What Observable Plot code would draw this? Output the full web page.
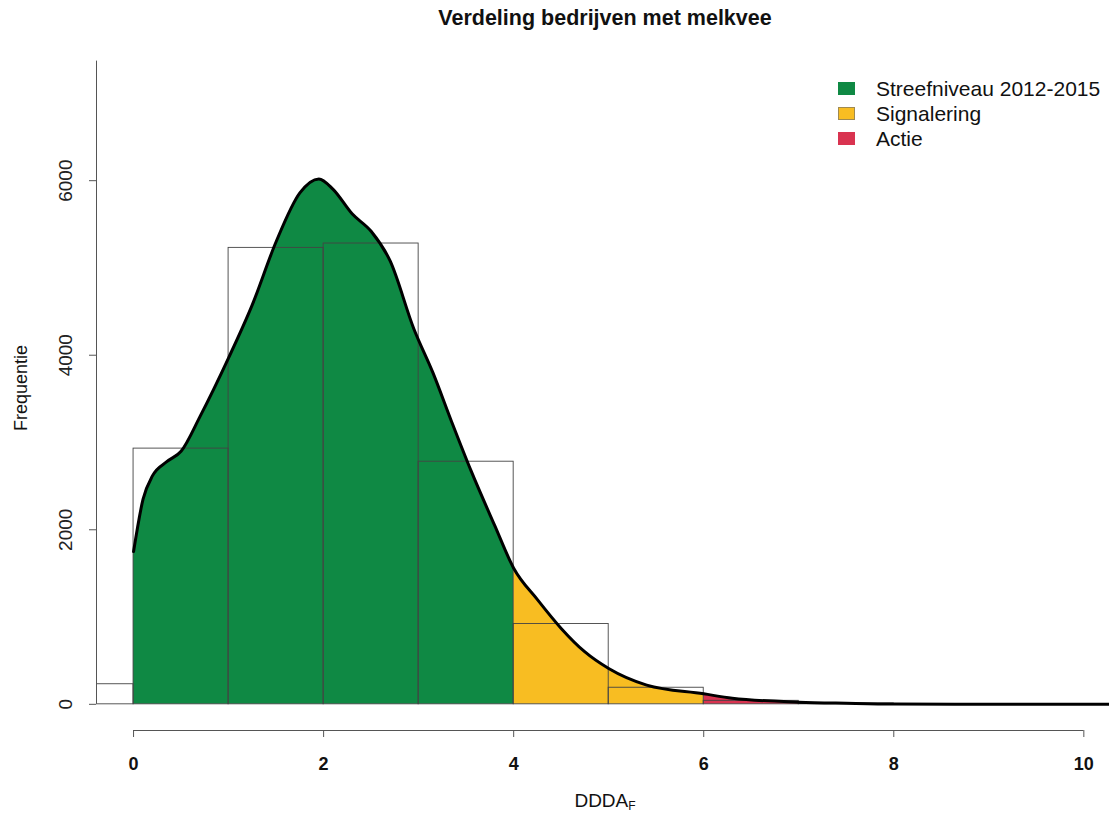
<!DOCTYPE html>
<html>
<head>
<meta charset="utf-8">
<script src="https://cdn.jsdelivr.net/npm/d3@7"></script>
<script src="https://cdn.jsdelivr.net/npm/@observablehq/plot@0.6"></script>
<style>
  html, body { margin: 0; padding: 0; background: #fff; }
  #wrap { position: relative; width: 1109px; height: 816px; overflow: hidden; font-family: "Liberation Sans", Arial, Helvetica, sans-serif; color: #111; }
  #wrap svg { position: absolute; left: 0; top: 0; }
  .abs { position: absolute; white-space: nowrap; }
  #title { left: 605px; top: 18px; transform: translate(-50%, -50%); font-weight: bold; font-size: 21.5px; }
  #ylab { left: 21px; top: 388px; transform: translate(-50%, -50%) rotate(-90deg); font-size: 18px; }
  #xlab { left: 605px; top: 801px; transform: translate(-50%, -50%); font-size: 19px; }
  #xlab sub { font-size: 12px; vertical-align: -3px; }
  #legend { left: 838px; top: 76px; font-size: 21px; line-height: 25px; }
  .row { display: flex; align-items: center; }
  .sw { width: 17px; height: 13px; margin-right: 21px; box-sizing: border-box; }
</style>
</head>
<body>
<div id="wrap">
  <div id="title" class="abs">Verdeling bedrijven met melkvee</div>
  <div id="ylab" class="abs">Frequentie</div>
  <div id="xlab" class="abs">DDDA<sub>F</sub></div>
  <div id="legend" class="abs"></div>
</div>
<script>
// ---- data ----
const xTicks = [0, 2, 4, 6, 8, 10];
const yTicks = [0, 2000, 4000, 6000];
const binStart = [-1, 0, 1, 2, 3, 4, 5, 6, 7];
const binCount = [230, 2930, 5230, 5280, 2780, 920, 190, 40, 10];
const densX = [0, 0.1, 0.2, 0.35, 0.5, 0.7, 1.0, 1.25, 1.5, 1.75, 1.95, 2.1, 2.3, 2.5, 2.7, 2.95, 3.15, 3.35, 3.55, 3.8, 4.0, 4.25, 4.5, 4.75, 5.0, 5.4, 6.0, 6.3, 7.0, 7.5, 8.0, 9.0, 10.0, 10.5];
const densY = [1750, 2350, 2620, 2780, 2900, 3300, 3970, 4580, 5300, 5860, 6020, 5900, 5620, 5420, 5080, 4300, 3800, 3230, 2680, 2050, 1560, 1200, 870, 600, 410, 220, 120, 70, 25, 12, 3, 1, 0, 0];
const zoneNames = ["Streefniveau 2012-2015", "Signalering", "Actie"];
const zoneColors = ["#0f8944", "#f8bd22", "#d93350"];
const zoneStart = [0, 4, 6];
const zoneEnd = [4, 6, 8];

// ---- build tables ----
const bins = binStart.map((s, i) => ({x1: s, x2: s + 1, count: binCount[i]}));
const dens = densX.map((x, i) => ({x, y: densY[i]}));
const zones = zoneNames.map((name, i) => ({name, color: zoneColors[i],
  pts: dens.filter(d => d.x >= zoneStart[i] && d.x <= zoneEnd[i])}));

const chart = Plot.plot({
  width: 1109,
  height: 816,
  marginLeft: 96,
  marginRight: 0,
  marginTop: 58,
  marginBottom: 86,
  style: {fontFamily: "'Liberation Sans', Arial, sans-serif", background: "transparent"},
  x: {domain: [-0.39, 10.27], label: null},
  y: {domain: [-300, 7400], label: null},
  marks: [
    ...zones.map(z => Plot.areaY(z.pts, {x: "x", y: "y", fill: z.color, curve: "monotone-x", clip: true})),
    Plot.rectY(bins, {x1: "x1", x2: "x2", y: "count", fill: "none", stroke: "#444", strokeWidth: 0.9, clip: true}),
    Plot.line(dens, {x: "x", y: "y", stroke: "#000", strokeWidth: 3, curve: "monotone-x", clip: true}),
    // x axis
    Plot.ruleY([-300], {x1: xTicks[0], x2: xTicks[xTicks.length - 1], stroke: "#555", strokeWidth: 1}),
    Plot.axisX({ticks: xTicks, tickSize: 7, tickPadding: 20, fontSize: 18, fontWeight: "bold", stroke: "#555", fill: "#111", label: null}),
    // y axis
    Plot.ruleX([-0.39], {y1: 0, y2: 7370, stroke: "#555", strokeWidth: 1}),
    Plot.axisY({ticks: yTicks, tickSize: 7, tickFormat: () => "", stroke: "#555", label: null}),
    Plot.text(yTicks, {x: -0.39, y: d => d, text: d => String(d), rotate: -90, dx: -31, fontSize: 19, lineAnchor: "middle", fill: "#222"})
  ]
});
document.getElementById("wrap").prepend(chart);

// legend
const lg = document.getElementById("legend");
zones.forEach((z, i) => {
  const row = document.createElement("div");
  row.className = "row";
  const sw = document.createElement("span");
  sw.className = "sw";
  sw.style.background = z.color;
  if (i === 1) sw.style.border = "1px solid #a08a50";
  const t = document.createElement("span");
  t.textContent = z.name;
  row.appendChild(sw);
  row.appendChild(t);
  lg.appendChild(row);
});
</script>
</body>
</html>
